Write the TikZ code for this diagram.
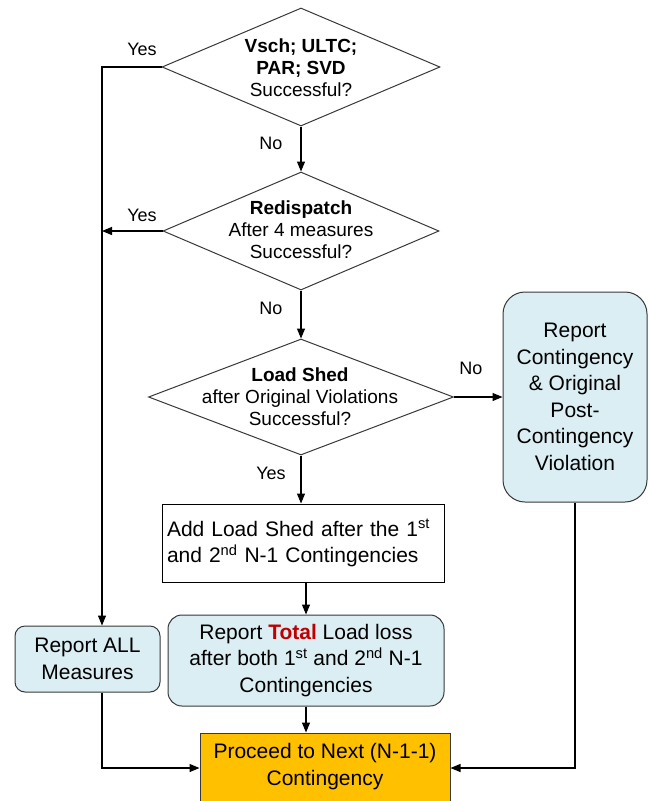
\documentclass[tikz,border=0pt]{standalone}
\usepackage{fontspec}
\setmainfont{Liberation Sans}
\usetikzlibrary{shapes.geometric,arrows.meta}
\definecolor{boxblue}{HTML}{DBEEF3}
\definecolor{proceedorange}{HTML}{FFC000}
\definecolor{totalred}{HTML}{C00000}
\definecolor{edgegray}{HTML}{383838}

\begin{document}
\begin{tikzpicture}[x=1pt,y=-1pt,
  decision/.style={diamond, draw=edgegray, line width=1pt, inner sep=0pt},
  dtext/.style={align=center, font=\fontsize{19}{22}\selectfont, inner sep=0pt},
  plainbox/.style={rectangle, draw=black, line width=1pt, fill=white,
    font=\fontsize{21}{26.5}\selectfont},
  bluebox/.style={rectangle, rounded corners=#1, draw=edgegray, line width=1pt,
    fill=boxblue, align=center, inner sep=0pt, font=\fontsize{21}{26.5}\selectfont},
  endbox/.style={rectangle, draw=edgegray, line width=1pt, fill=proceedorange,
    align=center, inner sep=0pt, font=\fontsize{21}{27}\selectfont},
  lbl/.style={font=\fontsize{18}{20}\selectfont, inner sep=0pt},
  arr/.style={-{Triangle[length=10pt,width=8pt]}, line width=1.2pt, draw=black},
  link/.style={line width=1.2pt, draw=black}]

\useasboundingbox (0,0) rectangle (650,801);
\clip (0,0) rectangle (650,801);

% decision diamonds
\node[decision, minimum width=278pt, minimum height=118pt] (d1) at (301,67) {};
\node[dtext] (d1t) at (301,68) {\textbf{Vsch; ULTC;}\\\textbf{PAR; SVD}\\Successful?};

\node[decision, minimum width=276pt, minimum height=118pt] (d2) at (301,231) {};
\node[dtext] (d2t) at (301,230) {\textbf{Redispatch}\\After 4 measures\\Successful?};

\node[decision, minimum width=305pt, minimum height=116pt] (d3) at (301,397) {};
\node[dtext] (d3t) at (300,397) {\textbf{Load Shed}\\after Original Violations\\Successful?};

% process boxes
\node[plainbox, minimum width=282pt, minimum height=78pt, text width=272pt,
      inner sep=5pt, align=left] (add) at (303,543)
  {Add Load Shed after the 1\textsuperscript{st}\\and 2\textsuperscript{nd} N-1 Contingencies};

\node[bluebox=14pt, minimum width=276pt, minimum height=91pt] (total) at (306,660.5)
  {Report \textcolor{totalred}{\textbf{Total}} Load loss\\after both 1\textsuperscript{st} and 2\textsuperscript{nd} N-1\\Contingencies};

\node[bluebox=10pt, minimum width=145pt, minimum height=66pt] (all) at (87.5,659)
  {Report ALL\\Measures};

\node[bluebox=22pt, minimum width=144pt, minimum height=210pt] (cont) at (575,397)
  {Report\\Contingency\\\& Original\\Post-\\Contingency\\Violation};

\node[endbox, minimum width=250pt, minimum height=70pt] (proceed) at (325,768) {};
\node[align=center, inner sep=0pt, font=\fontsize{21}{27}\selectfont] (proceedt) at (325,766.5)
  {Proceed to Next (N-1-1)\\Contingency};

% branch labels
\node[lbl] (yes1) at (142,49) {Yes};
\node[lbl] (no1) at (271,143) {No};
\node[lbl] (yes2) at (142,215) {Yes};
\node[lbl] (no2) at (271,308) {No};
\node[lbl] (no3) at (471,368) {No};
\node[lbl] (yes3) at (271,473) {Yes};

% bend point of the left "Yes" rail
\coordinate (rail) at (102,67);

% connectors
\draw[arr] (d1.west) -- (rail) -- (rail |- all.north);
\draw[arr] (d2.west) -- (d2.west -| rail);
\draw[arr] (d1.south) -- (d2.north);
\draw[arr] (d2.south) -- (d3.north);
\draw[arr] (d3.east) -- (d3.east -| cont.west);
\draw[arr] (d3.south) -- (d3.south |- add.north);
\draw[arr] (total.north |- add.south) -- (total.north);
\draw[arr] (total.south) -- (total.south |- proceed.north);
\draw[arr] (all.south -| rail) -- (rail |- proceed.west) -- (proceed.west);
\draw[arr] (cont.south) -- (cont.south |- proceed.east) -- (proceed.east);
\end{tikzpicture}
\end{document}
